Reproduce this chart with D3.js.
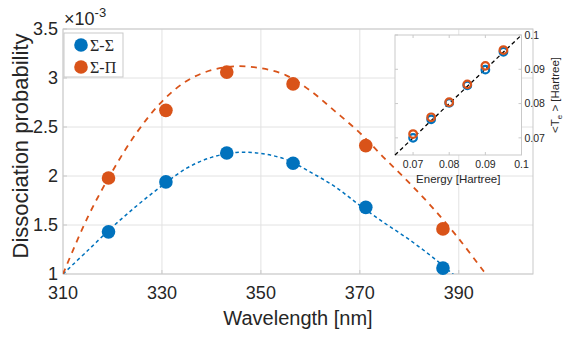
<!DOCTYPE html>
<html><head><meta charset="utf-8">
<script src="https://cdn.jsdelivr.net/npm/d3@7"></script>
<style>body{margin:0;background:#fff}svg{display:block}text{font-family:"Liberation Sans",Arial,sans-serif;fill:#262626}</style>
</head><body><svg id="c" width="563" height="339"></svg>
<script>
// ---- data (values in units of 1e-3) ----
const wavelengths = [319.2, 330.8, 343.1, 356.5, 371.2, 386.8];
const sigmaSigma  = [1.43, 1.94, 2.235, 2.13, 1.68, 1.06];
const sigmaPi     = [1.98, 2.67, 3.06, 2.94, 2.31, 1.46];
// fitted curves
const fitX        = [310, 315, 320, 325, 330, 335, 340, 345, 350, 355, 360, 365, 370, 375, 380, 385, 390, 395, 397];
const fitSigmaSigma = [1.00, 1.24, 1.48, 1.70, 1.90, 2.08, 2.19, 2.24, 2.23, 2.17, 2.04, 1.89, 1.70, 1.52, 1.35, 1.16, 0.95, 0.75, 0.66];
const fitSigmaPi    = [1.00, 1.58, 2.05, 2.45, 2.76, 2.97, 3.08, 3.12, 3.10, 3.03, 2.87, 2.66, 2.44, 2.18, 1.93, 1.66, 1.36, 1.03, 0.90];
const seriesNames = ["\u03A3-\u03A3", "\u03A3-\u03A0"];
const xTicks = [310, 330, 350, 370, 390];
const yTicks = [1, 1.5, 2, 2.5, 3, 3.5];
// inset
const energies = [0.07, 0.075, 0.08, 0.085, 0.09, 0.095];
const teSigmaSigma = [0.0700, 0.0754, 0.0802, 0.0853, 0.0899, 0.0951];
const teSigmaPi    = [0.0711, 0.0760, 0.0804, 0.0856, 0.0910, 0.0956];
const insetTicks = [0.07, 0.08, 0.09, 0.1];
const diag = [0.065, 0.1];

const colors = ["#0072BD", "#D95319"];
const svg = d3.select("#c");
const L=63, R=533, T=29, B=274;
const x = d3.scaleLinear([310, 405], [L, R]);
const y = d3.scaleLinear([1, 3.5], [B, T]);
const gridC = "#e2e2e2", axC = "#c9c9c9";

// grid
svg.append("g").selectAll("line").data(xTicks).join("line")
  .attr("x1", d=>x(d)).attr("x2", d=>x(d)).attr("y1", T).attr("y2", B).attr("stroke", gridC);
svg.append("g").selectAll("line").data(yTicks).join("line")
  .attr("x1", L).attr("x2", R).attr("y1", d=>y(d)).attr("y2", d=>y(d)).attr("stroke", gridC);
// box
svg.append("rect").attr("x", L).attr("y", T).attr("width", R-L).attr("height", B-T)
  .attr("fill", "none").attr("stroke", axC);
// tick marks
svg.append("g").selectAll("line").data(xTicks).join("line")
  .attr("x1", d=>x(d)).attr("x2", d=>x(d)).attr("y1", B).attr("y2", B-4).attr("stroke", axC);
svg.append("g").selectAll("line").data(yTicks).join("line")
  .attr("x1", L).attr("x2", L+4).attr("y1", d=>y(d)).attr("y2", d=>y(d)).attr("stroke", axC);
// tick labels
svg.append("g").selectAll("text").data(xTicks).join("text")
  .attr("x", d=>x(d)).attr("y", 299).attr("text-anchor", "middle").attr("font-size", 18).text(d=>d);
svg.append("g").selectAll("text").data(yTicks).join("text")
  .attr("x", 58).attr("y", d=>y(d)).attr("dy", "0.33em").attr("text-anchor", "end").attr("font-size", 18).text(d=>d);
// exponent
const ex = svg.append("text").attr("x", 64).attr("y", 25).attr("font-size", 18);
ex.append("tspan").text("\u00D710");
ex.append("tspan").attr("font-size", 13).attr("dy", -8).text("-3");
// axis titles
svg.append("text").attr("x", (L+R)/2).attr("y", 325).attr("text-anchor", "middle").attr("font-size", 20).text("Wavelength [nm]");
svg.append("text").attr("transform", `translate(28,146) rotate(-90)`).attr("text-anchor", "middle").attr("font-size", 22).text("Dissociation probability");

// clip
svg.append("clipPath").attr("id", "clip").append("rect").attr("x", L).attr("y", T).attr("width", R-L).attr("height", B-T);
const line = d3.line().x(d=>x(d[0])).y(d=>y(d[1])).curve(d3.curveCatmullRom);
const plot = svg.append("g").attr("clip-path", "url(#clip)");
plot.append("path").datum(fitX.map((v,i)=>[v, fitSigmaSigma[i]])).attr("d", line)
  .attr("fill", "none").attr("stroke", colors[0]).attr("stroke-width", 1.5).attr("stroke-dasharray", "3.5,3");
plot.append("path").datum(fitX.map((v,i)=>[v, fitSigmaPi[i]])).attr("d", line)
  .attr("fill", "none").attr("stroke", colors[1]).attr("stroke-width", 1.8).attr("stroke-dasharray", "6,5.5");
[sigmaSigma, sigmaPi].forEach((s, k) => {
  svg.append("g").selectAll("circle").data(s).join("circle")
    .attr("cx", (d,i)=>x(wavelengths[i])).attr("cy", d=>y(d)).attr("r", 6.8).attr("fill", colors[k]);
});

// legend
svg.append("rect").attr("x", 64).attr("y", 33).attr("width", 59).attr("height", 44).attr("fill", "#fff").attr("stroke", "#c9c9c9");
seriesNames.forEach((n, i) => {
  svg.append("circle").attr("cx", 81).attr("cy", 45 + i*22).attr("r", 6.8).attr("fill", colors[i]);
  svg.append("text").attr("x", 90).attr("y", 45 + i*22).attr("dy", "0.35em").attr("font-size", 16)
    .style("font-family", "'Liberation Serif','Times New Roman',serif").text(n);
});

// inset
const iL=395, iR=521.5, iT=35, iB=155;
const xi = d3.scaleLinear([0.065, 0.1], [iL, iR]);
const yi = d3.scaleLinear([0.065, 0.1], [iB, iT]);
svg.append("rect").attr("x", iL).attr("y", iT).attr("width", iR-iL).attr("height", iB-iT).attr("fill", "#fff").attr("stroke", axC);
svg.append("g").selectAll("line").data(insetTicks).join("line")
  .attr("x1", d=>xi(d)).attr("x2", d=>xi(d)).attr("y1", iB).attr("y2", iB-3).attr("stroke", axC);
svg.append("g").selectAll("line").data(insetTicks).join("line")
  .attr("x1", d=>xi(d)).attr("x2", d=>xi(d)).attr("y1", iT).attr("y2", iT+3).attr("stroke", axC);
svg.append("g").selectAll("line").data(insetTicks).join("line")
  .attr("x1", iR).attr("x2", iR-3).attr("y1", d=>yi(d)).attr("y2", d=>yi(d)).attr("stroke", axC);
svg.append("g").selectAll("line").data(insetTicks).join("line")
  .attr("x1", iL).attr("x2", iL+3).attr("y1", d=>yi(d)).attr("y2", d=>yi(d)).attr("stroke", axC);
svg.append("g").selectAll("text").data(insetTicks).join("text")
  .attr("x", d=>xi(d)).attr("y", 168).attr("text-anchor", "middle").attr("font-size", 10.5).text(d=>d);
svg.append("g").selectAll("text").data(insetTicks).join("text")
  .attr("x", iR+3).attr("y", d=>yi(d)).attr("dy", "0.35em").attr("font-size", 10.5).text(d=>d);
svg.append("text").attr("x", (iL+iR)/2).attr("y", 183).attr("text-anchor", "middle").attr("font-size", 11.5).text("Energy [Hartree]");
const yl = svg.append("text").attr("transform", `translate(559,${(iT+iB)/2}) rotate(-90)`).attr("text-anchor", "middle").attr("font-size", 11.5);
yl.append("tspan").text("<T");
yl.append("tspan").attr("font-size", 8).attr("dy", 3).text("e");
yl.append("tspan").attr("dy", -3).text(" > [Hartree]");
svg.append("path").datum(diag).attr("d", d3.line().x(d=>xi(d)).y(d=>yi(d)))
  .attr("stroke", "#000").attr("stroke-width", 1.3).attr("stroke-dasharray", "4,3");
[teSigmaSigma, teSigmaPi].forEach((s, k) => {
  svg.append("g").selectAll("circle").data(s).join("circle")
    .attr("cx", (d,i)=>xi(energies[i])).attr("cy", d=>yi(d)).attr("r", 3.8)
    .attr("fill", "none").attr("stroke", colors[k]).attr("stroke-width", 2.2);
});
</script></body></html>
